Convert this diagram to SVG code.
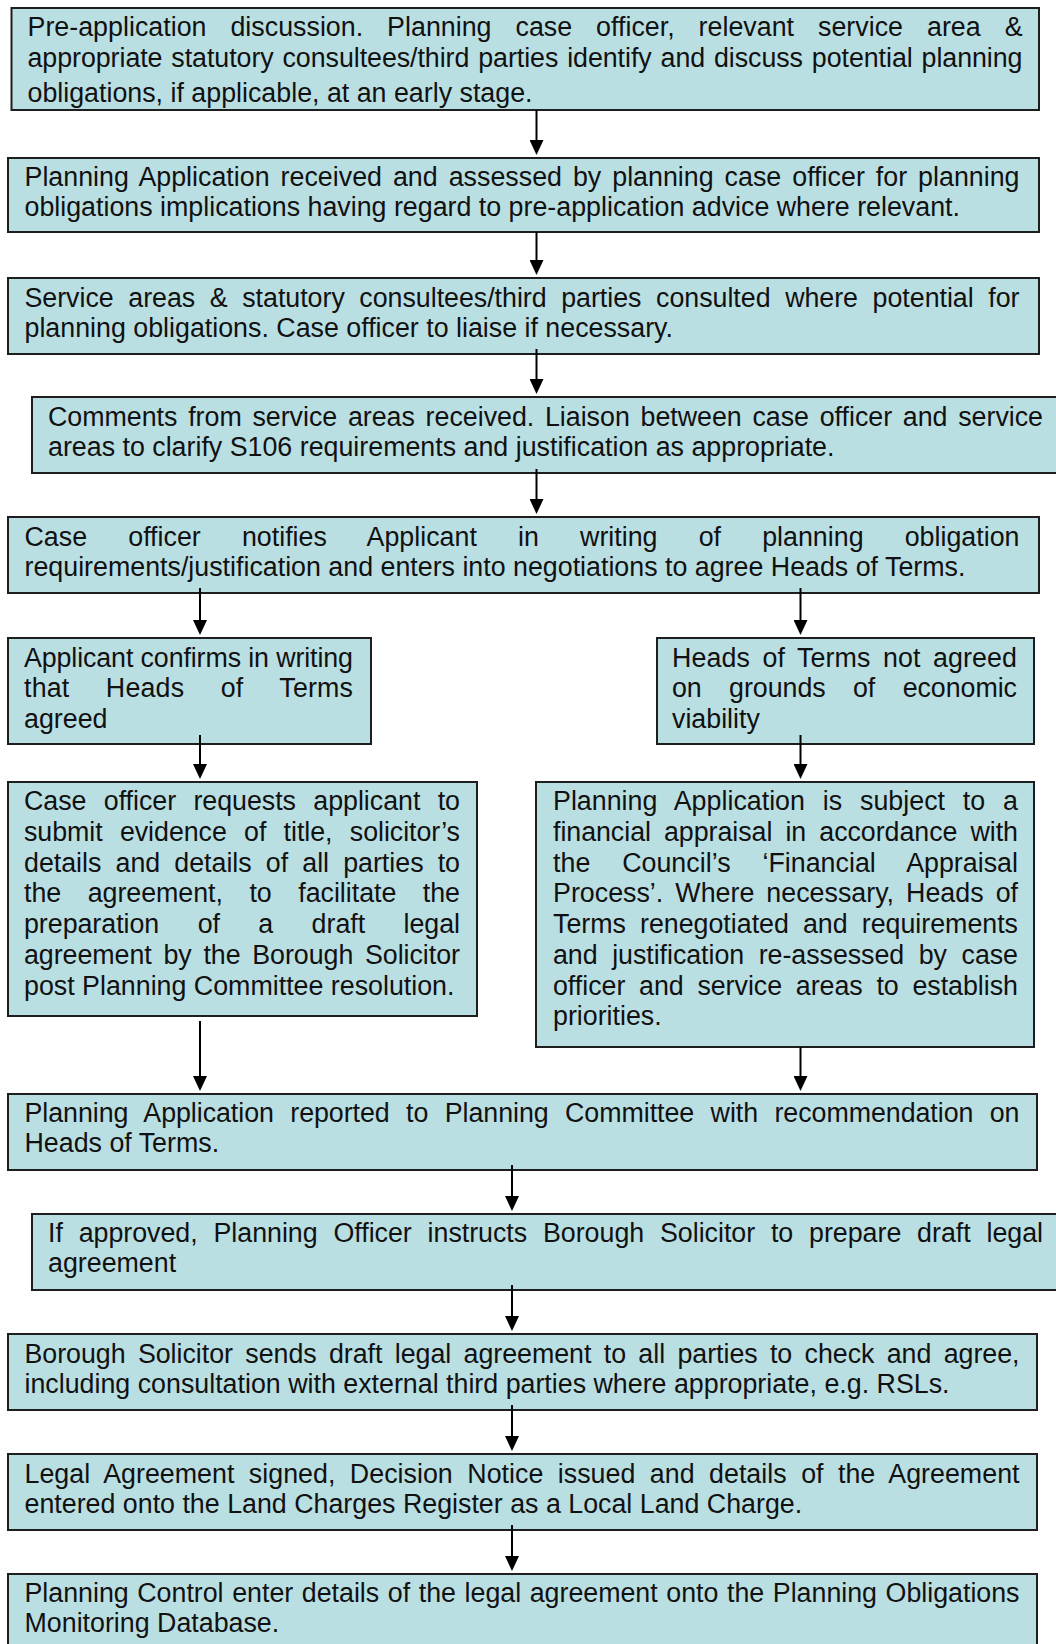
<svg xmlns="http://www.w3.org/2000/svg" width="1056" height="1644" viewBox="0 0 1056 1644">
<style>
.box{fill:#badfe3;stroke:#1e1e1e;stroke-width:2}
.t{font-family:"Liberation Sans",Arial,sans-serif;font-size:26.8px;fill:#111}
.c{stroke:#000;stroke-width:2;fill:none;marker-end:url(#ah)}
</style>
<defs>
<marker id="ah" markerUnits="userSpaceOnUse" markerWidth="15" markerHeight="14" viewBox="0 0 15 14" refX="0" refY="7" orient="auto">
<path d="M0,0 L15,7 L0,14 z" fill="#000"/>
</marker>
</defs>
<rect width="1056" height="1644" fill="#fff"/>

<g id="n1">
<rect class="box" x="11.5" y="8" width="1027.5" height="102"/>
<text class="t" x="27.5" y="35.5" word-spacing="16.5" textLength="995" lengthAdjust="spacing">Pre-application discussion. Planning case officer, relevant service area &amp;</text>
<text class="t" x="27.5" y="67" word-spacing="1.5" textLength="995" lengthAdjust="spacing">appropriate statutory consultees/third parties identify and discuss potential planning</text>
<text class="t" x="27.5" y="102">obligations, if applicable, at an early stage.</text>
</g>

<g id="n2">
<rect class="box" x="8" y="158" width="1031" height="74"/>
<text class="t" x="24.5" y="186" word-spacing="3.5" textLength="995" lengthAdjust="spacing">Planning Application received and assessed by planning case officer for planning</text>
<text class="t" x="24.5" y="216">obligations implications having regard to pre-application advice where relevant.</text>
</g>

<g id="n3">
<rect class="box" x="8" y="278" width="1031" height="76"/>
<text class="t" x="24.5" y="306.5" word-spacing="7.2" textLength="995" lengthAdjust="spacing">Service areas &amp; statutory consultees/third parties consulted where potential for</text>
<text class="t" x="24.5" y="336.5">planning obligations. Case officer to liaise if necessary.</text>
</g>

<g id="n4">
<rect class="box" x="32" y="397" width="1040" height="76"/>
<text class="t" x="48" y="425.5" word-spacing="3.3" textLength="995" lengthAdjust="spacing">Comments from service areas received. Liaison between case officer and service</text>
<text class="t" x="48" y="455.5">areas to clarify S106 requirements and justification as appropriate.</text>
</g>

<g id="n5">
<rect class="box" x="8" y="517" width="1031" height="76"/>
<text class="t" x="24.5" y="546" word-spacing="33.7" textLength="995" lengthAdjust="spacing">Case officer notifies Applicant in writing of planning obligation</text>
<text class="t" x="24.5" y="576">requirements/justification and enters into negotiations to agree Heads of Terms.</text>
</g>

<g id="n6a">
<rect class="box" x="8" y="638" width="363" height="106"/>
<text class="t" x="24" y="666.5" textLength="329" lengthAdjust="spacing">Applicant confirms in writing</text>
<text class="t" x="24" y="697" word-spacing="28.8" textLength="329" lengthAdjust="spacing">that Heads of Terms</text>
<text class="t" x="24" y="727.5">agreed</text>
</g>

<g id="n6b">
<rect class="box" x="657" y="638" width="377" height="106"/>
<text class="t" x="672" y="666.5" word-spacing="4.8" textLength="345" lengthAdjust="spacing">Heads of Terms not agreed</text>
<text class="t" x="672" y="697" word-spacing="20" textLength="345" lengthAdjust="spacing">on grounds of economic</text>
<text class="t" x="672" y="727.5">viability</text>
</g>

<g id="n7a">
<rect class="box" x="8" y="782" width="469" height="234"/>
<text class="t" x="24" y="810" word-spacing="9.9" textLength="436" lengthAdjust="spacing">Case officer requests applicant to</text>
<text class="t" x="24" y="840.75" word-spacing="9.9" textLength="436" lengthAdjust="spacing">submit evidence of title, solicitor’s</text>
<text class="t" x="24" y="871.5" word-spacing="6.7" textLength="436" lengthAdjust="spacing">details and details of all parties to</text>
<text class="t" x="24" y="902.25" word-spacing="19.1" textLength="436" lengthAdjust="spacing">the agreement, to facilitate the</text>
<text class="t" x="24" y="933" word-spacing="31" textLength="436" lengthAdjust="spacing">preparation of a draft legal</text>
<text class="t" x="24" y="963.75" word-spacing="4.3" textLength="436" lengthAdjust="spacing">agreement by the Borough Solicitor</text>
<text class="t" x="24" y="994.5">post Planning Committee resolution.</text>
</g>

<g id="n7b">
<rect class="box" x="536" y="782" width="498" height="265"/>
<text class="t" x="553" y="810" word-spacing="10.4" textLength="465" lengthAdjust="spacing">Planning Application is subject to a</text>
<text class="t" x="553" y="840.75" word-spacing="5.7" textLength="465" lengthAdjust="spacing">financial appraisal in accordance with</text>
<text class="t" x="553" y="871.5" word-spacing="24.4" textLength="465" lengthAdjust="spacing">the Council’s ‘Financial Appraisal</text>
<text class="t" x="553" y="902.25" word-spacing="4.6" textLength="465" lengthAdjust="spacing">Process’. Where necessary, Heads of</text>
<text class="t" x="553" y="933" word-spacing="6.7" textLength="465" lengthAdjust="spacing">Terms renegotiated and requirements</text>
<text class="t" x="553" y="963.75" word-spacing="7.2" textLength="465" lengthAdjust="spacing">and justification re-assessed by case</text>
<text class="t" x="553" y="994.5" word-spacing="6.3" textLength="465" lengthAdjust="spacing">officer and service areas to establish</text>
<text class="t" x="553" y="1025.25">priorities.</text>
</g>

<g id="n8">
<rect class="box" x="8" y="1094" width="1029" height="76"/>
<text class="t" x="24.5" y="1122" word-spacing="9" textLength="995" lengthAdjust="spacing">Planning Application reported to Planning Committee with recommendation on</text>
<text class="t" x="24.5" y="1152">Heads of Terms.</text>
</g>

<g id="n9">
<rect class="box" x="32" y="1214" width="1040" height="76"/>
<text class="t" x="48" y="1242" word-spacing="8.4" textLength="995" lengthAdjust="spacing">If approved, Planning Officer instructs Borough Solicitor to prepare draft legal</text>
<text class="t" x="48" y="1272">agreement</text>
</g>

<g id="n10">
<rect class="box" x="8" y="1334" width="1029" height="76"/>
<text class="t" x="24.5" y="1362.5" word-spacing="4.9" textLength="995" lengthAdjust="spacing">Borough Solicitor sends draft legal agreement to all parties to check and agree,</text>
<text class="t" x="24.5" y="1392.5">including consultation with external third parties where appropriate, e.g. RSLs.</text>
</g>

<g id="n11">
<rect class="box" x="8" y="1454" width="1029" height="76"/>
<text class="t" x="24.5" y="1482.5" word-spacing="7" textLength="995" lengthAdjust="spacing">Legal Agreement signed, Decision Notice issued and details of the Agreement</text>
<text class="t" x="24.5" y="1512.5">entered onto the Land Charges Register as a Local Land Charge.</text>
</g>

<g id="n12">
<rect class="box" x="8" y="1574" width="1029" height="90"/>
<text class="t" x="24.5" y="1602" word-spacing="1.2" textLength="995" lengthAdjust="spacing">Planning Control enter details of the legal agreement onto the Planning Obligations</text>
<text class="t" x="24.5" y="1632">Monitoring Database.</text>
</g>

<g id="connectors">
<path class="c" d="M536.5,110 V140"/>
<path class="c" d="M536.5,232 V260"/>
<path class="c" d="M536.5,349 V379"/>
<path class="c" d="M536.5,469 V499"/>
<path class="c" d="M200,588 V620"/>
<path class="c" d="M800.5,588 V620"/>
<path class="c" d="M200,735 V764"/>
<path class="c" d="M800.5,735 V764"/>
<path class="c" d="M200,1021 V1076"/>
<path class="c" d="M800.5,1047 V1076"/>
<path class="c" d="M512,1165 V1196"/>
<path class="c" d="M512,1285 V1316"/>
<path class="c" d="M512,1405 V1436"/>
<path class="c" d="M512,1525 V1556"/>
</g>
</svg>
